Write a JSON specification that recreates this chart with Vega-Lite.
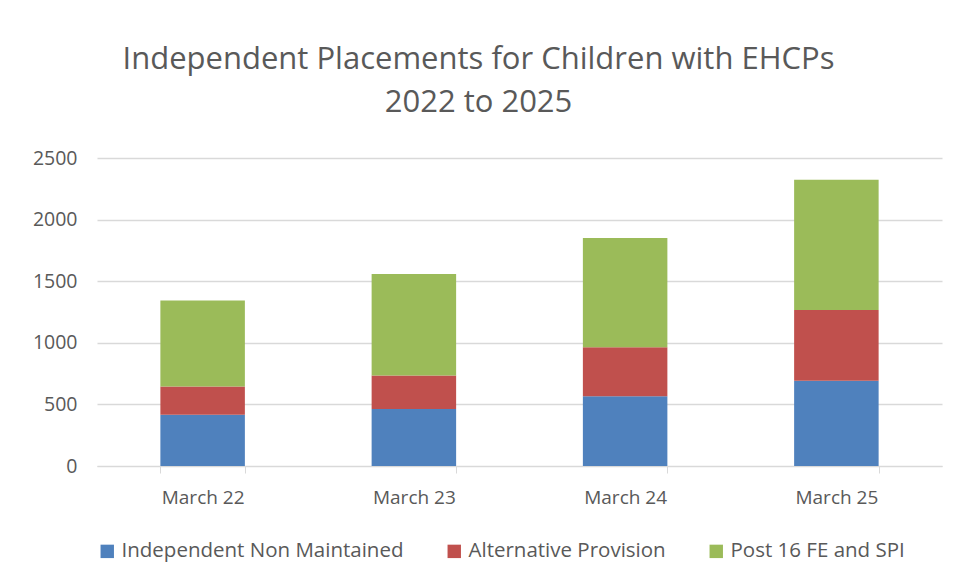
{
  "$schema": "https://vega.github.io/schema/vega-lite/v6.json",
  "width": 845,
  "height": 308,
  "autosize": "none",
  "padding": {"left": 97, "top": 158, "right": 15, "bottom": 115},
  "background": "white",
  "title": {
    "text": ["Independent Placements for Children with EHCPs", "2022 to 2025"],
    "fontSize": 31,
    "font": "Open Sans",
    "fontWeight": "normal",
    "color": "#595959",
    "anchor": "middle",
    "lineHeight": 43,
    "offset": 29,
    "dx": -41
  },
  "data": {
    "values": [
      {"month": "March 22", "type": "Independent Non Maintained", "value": 417},
      {"month": "March 22", "type": "Alternative Provision", "value": 229},
      {"month": "March 22", "type": "Post 16 FE and SPI", "value": 697},
      {"month": "March 23", "type": "Independent Non Maintained", "value": 462},
      {"month": "March 23", "type": "Alternative Provision", "value": 273},
      {"month": "March 23", "type": "Post 16 FE and SPI", "value": 824},
      {"month": "March 24", "type": "Independent Non Maintained", "value": 567},
      {"month": "March 24", "type": "Alternative Provision", "value": 397},
      {"month": "March 24", "type": "Post 16 FE and SPI", "value": 887},
      {"month": "March 25", "type": "Independent Non Maintained", "value": 692},
      {"month": "March 25", "type": "Alternative Provision", "value": 575},
      {"month": "March 25", "type": "Post 16 FE and SPI", "value": 1056}
    ]
  },
  "transform": [
    {"calculate": "indexof(['Independent Non Maintained','Alternative Provision','Post 16 FE and SPI'], datum.type)", "as": "ord"}
  ],
  "mark": {"type": "bar"},
  "encoding": {
    "x": {
      "field": "month", "type": "nominal", "title": null,
      "scale": {"paddingInner": 0.6, "paddingOuter": 0.3},
      "axis": {"labelAngle": 0, "labelFontSize": 19, "labelFont": "Open Sans", "labelColor": "#595959",
               "domainColor": "#d9d9d9", "tickColor": "#d9d9d9", "tickBand": "extent", "tickSize": 7, "labelPadding": 15, "grid": false}
    },
    "y": {
      "field": "value", "type": "quantitative", "aggregate": "sum", "stack": "zero", "title": null,
      "scale": {"domain": [0, 2500]},
      "axis": {"values": [0, 500, 1000, 1500, 2000, 2500], "format": "d", "labelFontSize": 19.5, "labelFont": "Open Sans", "labelColor": "#595959",
               "domain": false, "ticks": false, "gridColor": "#d9d9d9", "gridWidth": 1.3, "labelPadding": 20}
    },
    "color": {
      "field": "type", "type": "nominal", "title": null,
      "scale": {"domain": ["Independent Non Maintained", "Alternative Provision", "Post 16 FE and SPI"],
                "range": ["#4f81bd", "#c0504d", "#9bbb59"]},
      "legend": {"orient": "bottom", "direction": "horizontal", "symbolType": "square", "symbolSize": 180,
                 "labelFontSize": 20.5, "labelFont": "Open Sans", "labelColor": "#595959", "labelLimit": 0, "columnPadding": 40, "offset": 34, "symbolStrokeWidth": 0}
    },
    "order": {"field": "ord", "type": "quantitative"}
  },
  "config": {"view": {"stroke": null}}
}
